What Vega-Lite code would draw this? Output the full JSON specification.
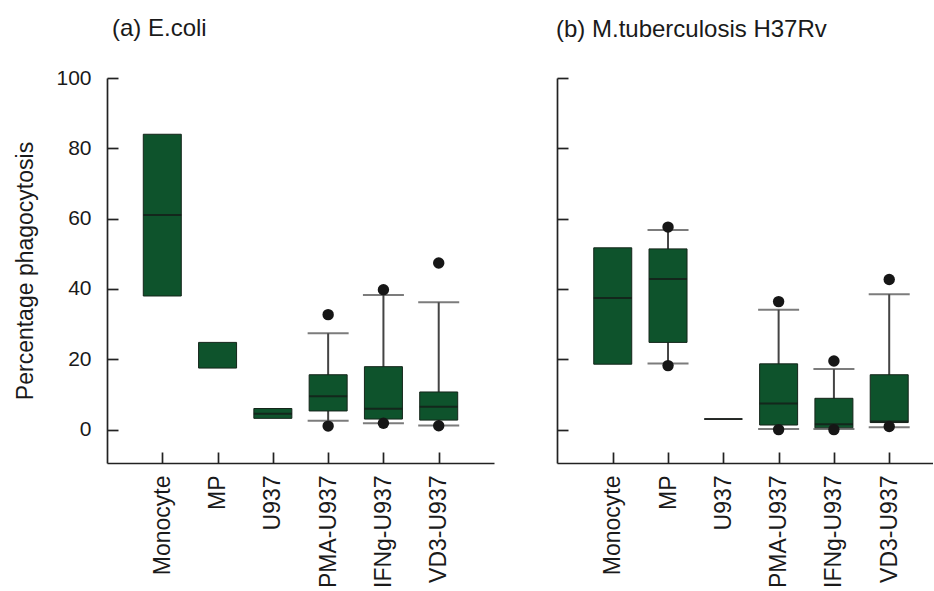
{
  "$schema": "https://vega.github.io/schema/vega-lite/v6.json",
  "padding": {"left": 14, "top": 17, "right": 0, "bottom": 0},
  "background": "white",
  "config": {
    "font": "Liberation Sans",
    "view": {"stroke": null},
    "concat": {"spacing": 62},
    "axis": {
      "domainColor": "#222222",
      "domainWidth": 1.7,
      "tickColor": "#222222",
      "tickWidth": 1.7,
      "tickSize": -11,
      "grid": false,
      "labelColor": "#1a1a1a",
      "titleColor": "#1a1a1a",
      "labelFont": "Liberation Sans",
      "titleFont": "Liberation Sans",
      "titleFontWeight": "normal"
    },
    "title": {"font": "Liberation Sans", "fontSize": 24, "fontWeight": "normal", "color": "#1a1a1a", "anchor": "start", "frame": "group"}
  },
  "datasets": {
    "boxes": [
      {"panel": "a", "cell": "Monocyte", "lower": null, "q1": 38.0, "median": 61.0, "q3": 84.0, "upper": null},
      {"panel": "a", "cell": "MP", "lower": null, "q1": 17.5, "median": null, "q3": 24.8, "upper": null},
      {"panel": "a", "cell": "U937", "lower": null, "q1": 3.2, "median": 4.5, "q3": 6.0, "upper": null},
      {"panel": "a", "cell": "PMA-U937", "lower": 2.5, "q1": 5.3, "median": 9.5, "q3": 15.6, "upper": 27.4},
      {"panel": "a", "cell": "IFNg-U937", "lower": 1.8, "q1": 3.0, "median": 5.9, "q3": 17.9, "upper": 38.3},
      {"panel": "a", "cell": "VD3-U937", "lower": 1.2, "q1": 2.7, "median": 6.5, "q3": 10.7, "upper": 36.2},
      {"panel": "b", "cell": "Monocyte", "lower": null, "q1": 18.6, "median": 37.4, "q3": 51.7, "upper": null},
      {"panel": "b", "cell": "MP", "lower": 18.8, "q1": 24.8, "median": 42.8, "q3": 51.4, "upper": 56.8},
      {"panel": "b", "cell": "U937", "lower": null, "q1": 3.0, "median": 3.0, "q3": 3.0, "upper": null},
      {"panel": "b", "cell": "PMA-U937", "lower": 0.2, "q1": 1.3, "median": 7.4, "q3": 18.7, "upper": 34.1},
      {"panel": "b", "cell": "IFNg-U937", "lower": 0.2, "q1": 0.5, "median": 1.5, "q3": 8.9, "upper": 17.2},
      {"panel": "b", "cell": "VD3-U937", "lower": 0.7, "q1": 2.0, "median": 2.3, "q3": 15.6, "upper": 38.5}
    ],
    "outliers": [
      {"panel": "a", "cell": "PMA-U937", "value": 32.7},
      {"panel": "a", "cell": "PMA-U937", "value": 1.0},
      {"panel": "a", "cell": "IFNg-U937", "value": 39.8},
      {"panel": "a", "cell": "IFNg-U937", "value": 1.8},
      {"panel": "a", "cell": "VD3-U937", "value": 47.4},
      {"panel": "a", "cell": "VD3-U937", "value": 1.1},
      {"panel": "b", "cell": "MP", "value": 57.6},
      {"panel": "b", "cell": "MP", "value": 18.2},
      {"panel": "b", "cell": "PMA-U937", "value": 36.4},
      {"panel": "b", "cell": "PMA-U937", "value": 0.0},
      {"panel": "b", "cell": "IFNg-U937", "value": 19.5},
      {"panel": "b", "cell": "IFNg-U937", "value": 0.0},
      {"panel": "b", "cell": "VD3-U937", "value": 42.7},
      {"panel": "b", "cell": "VD3-U937", "value": 0.9}
    ]
  },
  "hconcat": [
    {
      "width": 387,
      "height": 385,
      "title": {"text": "(a) E.coli", "dx": 5, "offset": 26},
      "layer": [
        {
          "data": {"name": "boxes"},
          "transform": [{"filter": "datum.panel === 'a' && isValid(datum.upper)"}],
          "mark": {"type": "rule", "color": "#444444", "strokeWidth": 2},
          "encoding": {
            "x": {"field": "cell", "type": "nominal", "sort": ["Monocyte", "MP", "U937", "PMA-U937", "IFNg-U937", "VD3-U937"], "scale": {"type": "point", "padding": 1}, "axis": {"title": null, "labelAngle": -90, "labelFontSize": 23, "labelPadding": 23}},
            "y": {"field": "lower", "type": "quantitative", "scale": {"domain": [-9.5, 100], "nice": false, "zero": false}, "axis": {"title": "Percentage phagocytosis", "values": [0, 20, 40, 60, 80, 100], "labelFontSize": 21, "titleFontSize": 23, "labelPadding": 27, "titlePadding": 18}},
            "y2": {"field": "upper"}
          }
        },
        {
          "data": {"name": "boxes"},
          "transform": [{"filter": "datum.panel === 'a'"}],
          "mark": {"type": "bar", "width": 38, "color": "#0e532c", "stroke": "#14251a", "strokeWidth": 1},
          "encoding": {
            "x": {"field": "cell", "type": "nominal", "sort": ["Monocyte", "MP", "U937", "PMA-U937", "IFNg-U937", "VD3-U937"]},
            "y": {"field": "q1", "type": "quantitative"},
            "y2": {"field": "q3"}
          }
        },
        {
          "data": {"name": "boxes"},
          "transform": [{"filter": "datum.panel === 'a' && isValid(datum.median)"}],
          "mark": {"type": "tick", "color": "#151515", "thickness": 2, "size": 38},
          "encoding": {
            "x": {"field": "cell", "type": "nominal", "sort": ["Monocyte", "MP", "U937", "PMA-U937", "IFNg-U937", "VD3-U937"]},
            "y": {"field": "median", "type": "quantitative"}
          }
        },
        {
          "data": {"name": "boxes"},
          "transform": [{"filter": "datum.panel === 'a' && isValid(datum.upper)"}, {"fold": ["lower", "upper"], "as": ["end", "cap"]}],
          "mark": {"type": "tick", "color": "#444444", "thickness": 2, "size": 41},
          "encoding": {
            "x": {"field": "cell", "type": "nominal", "sort": ["Monocyte", "MP", "U937", "PMA-U937", "IFNg-U937", "VD3-U937"]},
            "y": {"field": "cap", "type": "quantitative"}
          }
        },
        {
          "data": {"name": "outliers"},
          "transform": [{"filter": "datum.panel === 'a'"}],
          "mark": {"type": "point", "filled": true, "color": "#161616", "opacity": 1, "size": 130},
          "encoding": {
            "x": {"field": "cell", "type": "nominal", "sort": ["Monocyte", "MP", "U937", "PMA-U937", "IFNg-U937", "VD3-U937"]},
            "y": {"field": "value", "type": "quantitative"}
          }
        }
      ]
    },
    {
      "width": 376,
      "height": 385,
      "title": {"text": "(b) M.tuberculosis H37Rv", "dx": -1, "offset": 35},
      "layer": [
        {
          "data": {"name": "boxes"},
          "transform": [{"filter": "datum.panel === 'b' && isValid(datum.upper)"}],
          "mark": {"type": "rule", "color": "#444444", "strokeWidth": 2},
          "encoding": {
            "x": {"field": "cell", "type": "nominal", "sort": ["Monocyte", "MP", "U937", "PMA-U937", "IFNg-U937", "VD3-U937"], "scale": {"type": "point", "padding": 0.9, "align": 0.56}, "axis": {"title": null, "labelAngle": -90, "labelFontSize": 23, "labelPadding": 23}},
            "y": {"field": "lower", "type": "quantitative", "scale": {"domain": [-9.5, 100], "nice": false, "zero": false}, "axis": {"title": null, "labels": false, "values": [0, 20, 40, 60, 80, 100]}},
            "y2": {"field": "upper"}
          }
        },
        {
          "data": {"name": "boxes"},
          "transform": [{"filter": "datum.panel === 'b'"}],
          "mark": {"type": "bar", "width": 38, "color": "#0e532c", "stroke": "#14251a", "strokeWidth": 1},
          "encoding": {
            "x": {"field": "cell", "type": "nominal", "sort": ["Monocyte", "MP", "U937", "PMA-U937", "IFNg-U937", "VD3-U937"]},
            "y": {"field": "q1", "type": "quantitative"},
            "y2": {"field": "q3"}
          }
        },
        {
          "data": {"name": "boxes"},
          "transform": [{"filter": "datum.panel === 'b' && isValid(datum.median)"}],
          "mark": {"type": "tick", "color": "#151515", "thickness": 2, "size": 38},
          "encoding": {
            "x": {"field": "cell", "type": "nominal", "sort": ["Monocyte", "MP", "U937", "PMA-U937", "IFNg-U937", "VD3-U937"]},
            "y": {"field": "median", "type": "quantitative"}
          }
        },
        {
          "data": {"name": "boxes"},
          "transform": [{"filter": "datum.panel === 'b' && isValid(datum.upper)"}, {"fold": ["lower", "upper"], "as": ["end", "cap"]}],
          "mark": {"type": "tick", "color": "#444444", "thickness": 2, "size": 41},
          "encoding": {
            "x": {"field": "cell", "type": "nominal", "sort": ["Monocyte", "MP", "U937", "PMA-U937", "IFNg-U937", "VD3-U937"]},
            "y": {"field": "cap", "type": "quantitative"}
          }
        },
        {
          "data": {"name": "outliers"},
          "transform": [{"filter": "datum.panel === 'b'"}],
          "mark": {"type": "point", "filled": true, "color": "#161616", "opacity": 1, "size": 130},
          "encoding": {
            "x": {"field": "cell", "type": "nominal", "sort": ["Monocyte", "MP", "U937", "PMA-U937", "IFNg-U937", "VD3-U937"]},
            "y": {"field": "value", "type": "quantitative"}
          }
        }
      ]
    }
  ]
}
